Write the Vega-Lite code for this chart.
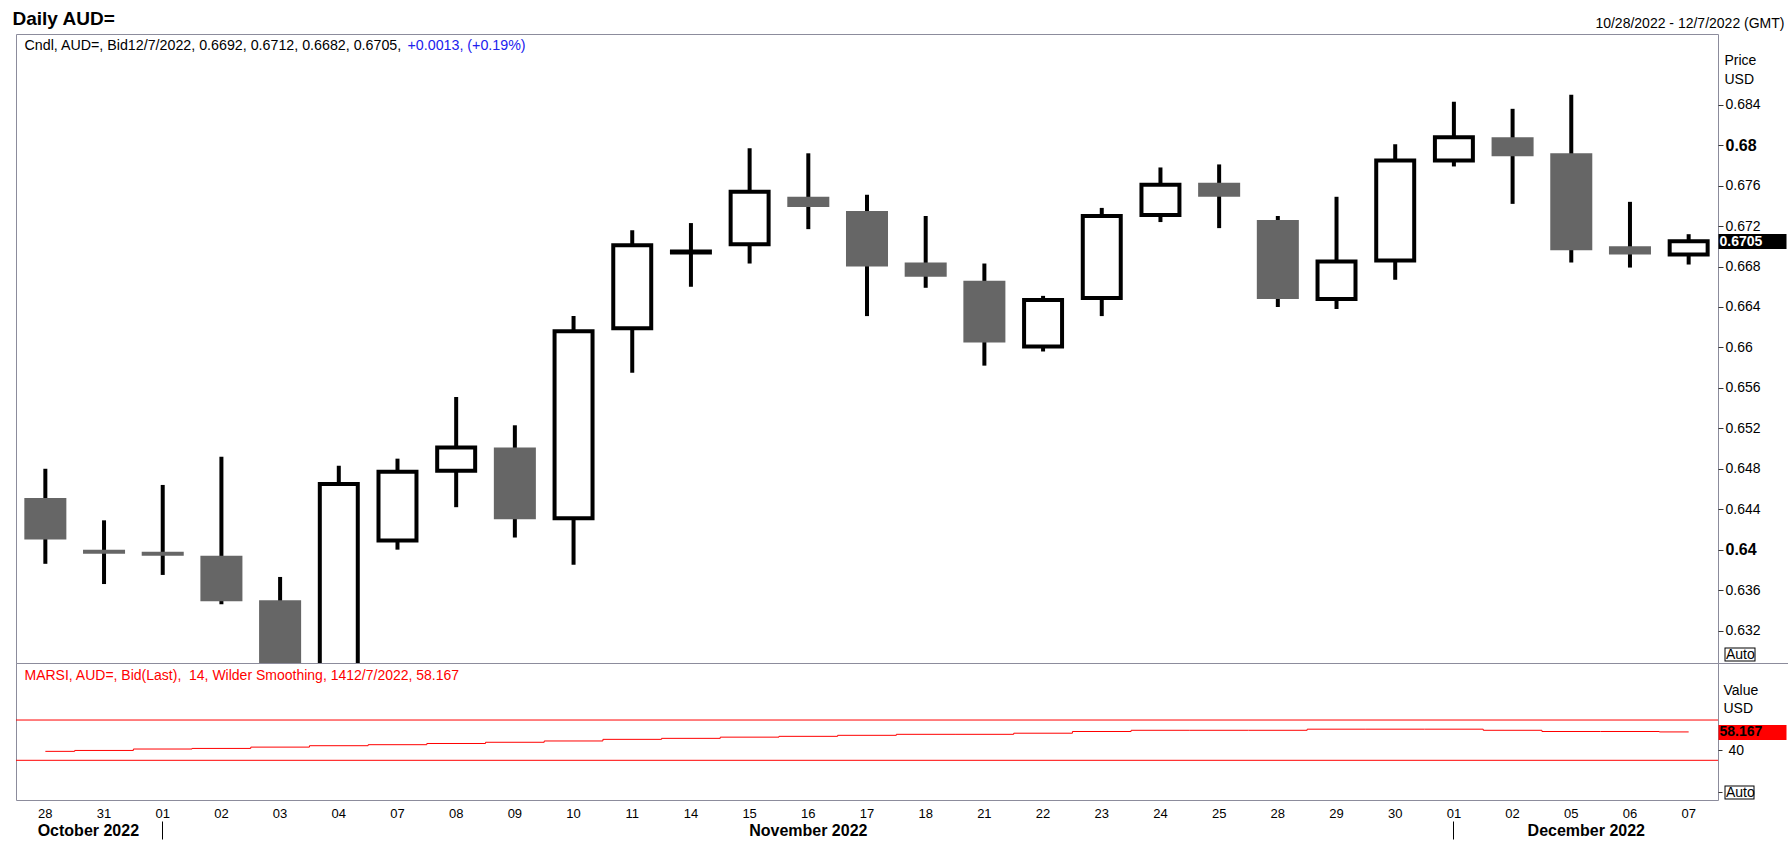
{
  "$schema": "https://vega.github.io/schema/vega-lite/v6.json",
  "description": "Daily AUD= candlesticks with RSI panel",
  "padding": {"left": 11, "top": 8, "right": 0, "bottom": 0},
  "background": "white",
  "data": {
    "values": [
      {"date": "2022-10-28", "open": 0.6451, "high": 0.6480, "low": 0.6386, "close": 0.6410, "rsi": 38.9},
      {"date": "2022-10-31", "open": 0.6400, "high": 0.6429, "low": 0.6366, "close": 0.6396, "rsi": 39.8},
      {"date": "2022-11-01", "open": 0.6398, "high": 0.6464, "low": 0.6375, "close": 0.6394, "rsi": 41.2},
      {"date": "2022-11-02", "open": 0.6394, "high": 0.6492, "low": 0.6346, "close": 0.6349, "rsi": 41.8},
      {"date": "2022-11-03", "open": 0.6350, "high": 0.6373, "low": 0.6272, "close": 0.6284, "rsi": 43.1},
      {"date": "2022-11-04", "open": 0.6284, "high": 0.6483, "low": 0.6276, "close": 0.6465, "rsi": 44.5},
      {"date": "2022-11-07", "open": 0.6409, "high": 0.6490, "low": 0.6400, "close": 0.6477, "rsi": 45.5},
      {"date": "2022-11-08", "open": 0.6478, "high": 0.6551, "low": 0.6442, "close": 0.6501, "rsi": 46.7},
      {"date": "2022-11-09", "open": 0.6501, "high": 0.6523, "low": 0.6412, "close": 0.6430, "rsi": 47.9},
      {"date": "2022-11-10", "open": 0.6431, "high": 0.6631, "low": 0.6385, "close": 0.6616, "rsi": 49.2},
      {"date": "2022-11-11", "open": 0.6619, "high": 0.6716, "low": 0.6575, "close": 0.6701, "rsi": 50.8},
      {"date": "2022-11-14", "open": 0.6694, "high": 0.6723, "low": 0.6660, "close": 0.6695, "rsi": 51.8},
      {"date": "2022-11-15", "open": 0.6702, "high": 0.6797, "low": 0.6683, "close": 0.6754, "rsi": 53.0},
      {"date": "2022-11-16", "open": 0.6749, "high": 0.6792, "low": 0.6717, "close": 0.6739, "rsi": 53.8},
      {"date": "2022-11-17", "open": 0.6735, "high": 0.6751, "low": 0.6631, "close": 0.6680, "rsi": 54.8},
      {"date": "2022-11-18", "open": 0.6684, "high": 0.6730, "low": 0.6659, "close": 0.6670, "rsi": 55.8},
      {"date": "2022-11-21", "open": 0.6666, "high": 0.6683, "low": 0.6582, "close": 0.6605, "rsi": 55.8},
      {"date": "2022-11-22", "open": 0.6601, "high": 0.6651, "low": 0.6596, "close": 0.6647, "rsi": 56.9},
      {"date": "2022-11-23", "open": 0.6649, "high": 0.6738, "low": 0.6631, "close": 0.6730, "rsi": 58.6},
      {"date": "2022-11-24", "open": 0.6731, "high": 0.6778, "low": 0.6724, "close": 0.6761, "rsi": 59.8},
      {"date": "2022-11-25", "open": 0.6763, "high": 0.6781, "low": 0.6718, "close": 0.6749, "rsi": 59.8},
      {"date": "2022-11-28", "open": 0.6726, "high": 0.6730, "low": 0.6640, "close": 0.6648, "rsi": 59.8},
      {"date": "2022-11-29", "open": 0.6648, "high": 0.6749, "low": 0.6638, "close": 0.6685, "rsi": 60.9},
      {"date": "2022-11-30", "open": 0.6686, "high": 0.6801, "low": 0.6667, "close": 0.6785, "rsi": 60.9},
      {"date": "2022-12-01", "open": 0.6785, "high": 0.6843, "low": 0.6779, "close": 0.6808, "rsi": 60.9},
      {"date": "2022-12-02", "open": 0.6808, "high": 0.6836, "low": 0.6742, "close": 0.6789, "rsi": 59.8},
      {"date": "2022-12-05", "open": 0.6792, "high": 0.6850, "low": 0.6684, "close": 0.6696, "rsi": 58.6},
      {"date": "2022-12-06", "open": 0.6700, "high": 0.6744, "low": 0.6679, "close": 0.6692, "rsi": 58.6},
      {"date": "2022-12-07", "open": 0.6692, "high": 0.6712, "low": 0.6682, "close": 0.6705, "rsi": 58.167}
    ]
  },
  "spacing": 0,
  "bounds": "flush",
  "vconcat": [
    {
      "width": 1702,
      "height": 629,
      "layer": [
        {
          "mark": {"type": "rule", "color": "black", "strokeWidth": 4, "clip": true},
          "encoding": {
            "x": {"field": "date", "type": "ordinal", "axis": null, "scale": {"type": "band", "paddingInner": 0, "paddingOuter": 0}},
            "y": {
              "field": "low",
              "type": "quantitative",
              "scale": {"domain": [0.62879, 0.691], "nice": false, "zero": false},
              "axis": {
                "orient": "right",
                "values": [0.632, 0.636, 0.64, 0.644, 0.648, 0.652, 0.656, 0.66, 0.664, 0.668, 0.672, 0.676, 0.68, 0.684],
                "format": ".3~f",
                "domain": false,
                "grid": false,
                "tickSize": 5,
                "tickWidth": 1,
                "tickColor": "#333333",
                "labelPadding": 2,
                "labelColor": "black",
                "labelOverlap": false,
                "labelFontSize": {"condition": {"test": "abs(datum.value - 0.64) < 0.00001 || abs(datum.value - 0.68) < 0.00001", "value": 16}, "value": 14},
                "labelFontWeight": {"condition": {"test": "abs(datum.value - 0.64) < 0.00001 || abs(datum.value - 0.68) < 0.00001", "value": "bold"}, "value": "normal"},
                "title": ["Price", "USD"],
                "titleAngle": 0,
                "titleX": 6,
                "titleY": 30,
                "titleAlign": "left",
                "titleBaseline": "alphabetic",
                "titleLineHeight": 19,
                "titleFontSize": 14,
                "titleFontWeight": "normal",
                "titleColor": "black"
              }
            },
            "y2": {"field": "high"}
          }
        },
        {
          "transform": [{"filter": "datum.close < datum.open"}],
          "mark": {"type": "bar", "color": "#666666", "width": {"band": 0.716}, "clip": true},
          "encoding": {
            "x": {"field": "date", "type": "ordinal", "axis": null, "scale": {"type": "band", "paddingInner": 0, "paddingOuter": 0}},
            "y": {
              "field": "open",
              "type": "quantitative",
              "scale": {"domain": [0.62879, 0.691], "nice": false, "zero": false},
              "axis": {
                "orient": "right",
                "values": [0.6705],
                "format": ".4f",
                "domain": false,
                "grid": false,
                "tickSize": 68,
                "tickWidth": 15,
                "tickColor": "black",
                "labelPadding": -67,
                "labelColor": "white",
                "labelFontWeight": "bold",
                "labelFontSize": 14,
                "title": "10/28/2022 - 12/7/2022 (GMT)",
                "titleAngle": 0,
                "titleX": 66,
                "titleY": -7,
                "titleAlign": "right",
                "titleBaseline": "alphabetic",
                "titleFontSize": 14,
                "titleFontWeight": "normal",
                "titleColor": "black"
              }
            },
            "y2": {"field": "close"}
          }
        },
        {
          "transform": [{"filter": "datum.close >= datum.open"}],
          "mark": {"type": "bar", "fill": "white", "stroke": "black", "strokeWidth": 4, "width": {"band": 0.647}, "clip": true},
          "encoding": {
            "x": {"field": "date", "type": "ordinal", "axis": null, "scale": {"type": "band", "paddingInner": 0, "paddingOuter": 0}},
            "y": {
              "field": "open",
              "type": "quantitative",
              "scale": {"domain": [0.62879, 0.691], "nice": false, "zero": false},
              "axis": {
                "orient": "right",
                "values": [0.62968],
                "offset": 6,
                "domain": false,
                "grid": false,
                "labels": false,
                "tickSize": 31,
                "tickWidth": 14,
                "tickColor": "black",
                "title": "Daily AUD=",
                "titleAngle": 0,
                "titleX": -1712,
                "titleY": -10,
                "titleAlign": "left",
                "titleBaseline": "alphabetic",
                "titleFontSize": 19,
                "titleFontWeight": "bold",
                "titleColor": "black"
              }
            },
            "y2": {"field": "close"}
          }
        },
        {
          "mark": {"type": "rule", "opacity": 0},
          "encoding": {
            "x": {"field": "date", "type": "ordinal", "axis": null, "scale": {"type": "band", "paddingInner": 0, "paddingOuter": 0}},
            "y": {
              "field": "low",
              "type": "quantitative",
              "scale": {"domain": [0.62879, 0.691], "nice": false, "zero": false},
              "axis": {
                "orient": "right",
                "values": [0.62968],
                "offset": 7,
                "domain": false,
                "grid": false,
                "tickSize": 29,
                "tickWidth": 12,
                "tickColor": "white",
                "labelExpr": "'Auto'",
                "labelPadding": -28.5,
                "labelColor": "black",
                "labelFontSize": 14,
                "title": "Cndl, AUD=, Bid12/7/2022, 0.6692, 0.6712, 0.6682, 0.6705,",
                "titleAngle": 0,
                "titleX": -1701,
                "titleY": 15,
                "titleAlign": "left",
                "titleBaseline": "alphabetic",
                "titleFontSize": 14.25,
                "titleFontWeight": "normal",
                "titleColor": "black"
              }
            },
            "y2": {"field": "high"}
          }
        },
        {
          "mark": {"type": "rule", "opacity": 0},
          "encoding": {
            "x": {"field": "date", "type": "ordinal", "axis": null, "scale": {"type": "band", "paddingInner": 0, "paddingOuter": 0}},
            "y": {
              "field": "low",
              "type": "quantitative",
              "scale": {"domain": [0.62879, 0.691], "nice": false, "zero": false},
              "axis": {
                "orient": "right",
                "values": [0.62879],
                "domain": false,
                "grid": false,
                "labels": false,
                "tickSize": 71,
                "tickWidth": 1,
                "tickColor": "#8c8c9c",
                "title": "+0.0013, (+0.19%)",
                "titleAngle": 0,
                "titleX": -1311,
                "titleY": 15,
                "titleAlign": "left",
                "titleBaseline": "alphabetic",
                "titleFontSize": 14.25,
                "titleFontWeight": "normal",
                "titleColor": "#2020ee"
              }
            },
            "y2": {"field": "high"}
          }
        }
      ],
      "resolve": {"axis": {"y": "independent"}}
    },
    {
      "width": 1702,
      "height": 137,
      "layer": [
        {
          "data": {"values": [{"level": 70}, {"level": 30}]},
          "mark": {"type": "rule", "color": "#ff0000", "strokeWidth": 1},
          "encoding": {
            "y": {
              "field": "level",
              "type": "quantitative",
              "scale": {"domain": [-9.4, 126.6], "nice": false, "zero": false},
              "axis": {
                "orient": "right",
                "values": [40, -1.7],
                "domain": false,
                "grid": false,
                "tickSize": 4,
                "tickWidth": 1,
                "tickColor": "#333333",
                "labelPadding": 6,
                "labelExpr": "datum.value == 40 ? '40' : ''",
                "labelFontSize": 14,
                "labelColor": "black",
                "title": ["Value", "USD"],
                "titleAngle": 0,
                "titleX": 5,
                "titleY": 31,
                "titleAlign": "left",
                "titleBaseline": "alphabetic",
                "titleLineHeight": 18.5,
                "titleFontSize": 14,
                "titleFontWeight": "normal",
                "titleColor": "black"
              }
            }
          }
        },
        {
          "mark": {"type": "line", "color": "#ff0000", "strokeWidth": 1, "interpolate": "step"},
          "encoding": {
            "x": {
              "field": "date",
              "type": "ordinal",
              "scale": {"type": "band", "paddingInner": 0, "paddingOuter": 0},
              "axis": {
                "orient": "bottom",
                "labelExpr": "substring(datum.value, 8, 10)",
                "labelAngle": 0,
                "ticks": false,
                "domain": false,
                "grid": false,
                "labelPadding": 7,
                "labelBaseline": "top",
                "labelFontSize": 13,
                "labelColor": "black",
                "labelOverlap": false,
                "title": null
              }
            },
            "y": {
              "field": "rsi",
              "type": "quantitative",
              "scale": {"domain": [-9.4, 126.6], "nice": false, "zero": false},
              "axis": {
                "orient": "right",
                "values": [58.167],
                "format": ".3f",
                "domain": false,
                "grid": false,
                "tickSize": 68,
                "tickWidth": 15,
                "tickColor": "#ff0000",
                "labelPadding": -67,
                "labelColor": "black",
                "labelFontWeight": "bold",
                "labelFontSize": 14,
                "title": "MARSI, AUD=, Bid(Last), \u00a014, Wilder Smoothing, 1412/7/2022, 58.167",
                "titleAngle": 0,
                "titleX": -1694,
                "titleY": 16,
                "titleAlign": "left",
                "titleBaseline": "alphabetic",
                "titleFontSize": 14,
                "titleFontWeight": "normal",
                "titleColor": "#ff0000"
              }
            }
          }
        },
        {
          "mark": {"type": "line", "opacity": 0},
          "encoding": {
            "x": {
              "field": "date",
              "type": "ordinal",
              "scale": {"type": "band", "paddingInner": 0, "paddingOuter": 0},
              "axis": {
                "orient": "bottom",
                "values": ["2022-10-28", "2022-11-16", "2022-12-05"],
                "labelExpr": "datum.value == '2022-10-28' ? 'October 2022' : datum.value == '2022-11-16' ? 'November 2022' : 'December 2022'",
                "labelOffset": {"condition": [{"test": "datum.value == '2022-10-28'", "value": 43}, {"test": "datum.value == '2022-12-05'", "value": 15}], "value": 0},
                "labelAngle": 0,
                "ticks": false,
                "domain": false,
                "grid": false,
                "labelPadding": 22,
                "labelBaseline": "top",
                "labelFontSize": 16,
                "labelFontWeight": "bold",
                "labelColor": "black",
                "labelOverlap": false,
                "title": null
              }
            },
            "y": {
              "field": "rsi",
              "type": "quantitative",
              "scale": {"domain": [-9.4, 126.6], "nice": false, "zero": false},
              "axis": {
                "orient": "right",
                "values": [-1.7],
                "offset": 6,
                "domain": false,
                "grid": false,
                "labels": false,
                "tickSize": 30,
                "tickWidth": 14,
                "tickColor": "black",
                "title": null
              }
            }
          }
        },
        {
          "mark": {"type": "line", "opacity": 0},
          "encoding": {
            "x": {
              "field": "date",
              "type": "ordinal",
              "scale": {"type": "band", "paddingInner": 0, "paddingOuter": 0},
              "axis": {
                "orient": "bottom",
                "values": ["2022-11-01", "2022-12-01"],
                "offset": 21,
                "ticks": true,
                "tickSize": 18,
                "tickWidth": 1,
                "tickColor": "black",
                "labels": false,
                "domain": false,
                "grid": false,
                "title": null
              }
            },
            "y": {
              "field": "rsi",
              "type": "quantitative",
              "scale": {"domain": [-9.4, 126.6], "nice": false, "zero": false},
              "axis": {
                "orient": "right",
                "values": [-1.7],
                "offset": 7,
                "domain": false,
                "grid": false,
                "tickSize": 28,
                "tickWidth": 12,
                "tickColor": "white",
                "labelExpr": "'Auto'",
                "labelPadding": -27.5,
                "labelColor": "black",
                "labelFontSize": 14,
                "title": null
              }
            }
          }
        }
      ],
      "resolve": {"axis": {"x": "independent", "y": "independent"}}
    }
  ],
  "config": {
    "font": "Liberation Sans",
    "view": {"stroke": "#8c8c9c", "strokeWidth": 1}
  }
}
